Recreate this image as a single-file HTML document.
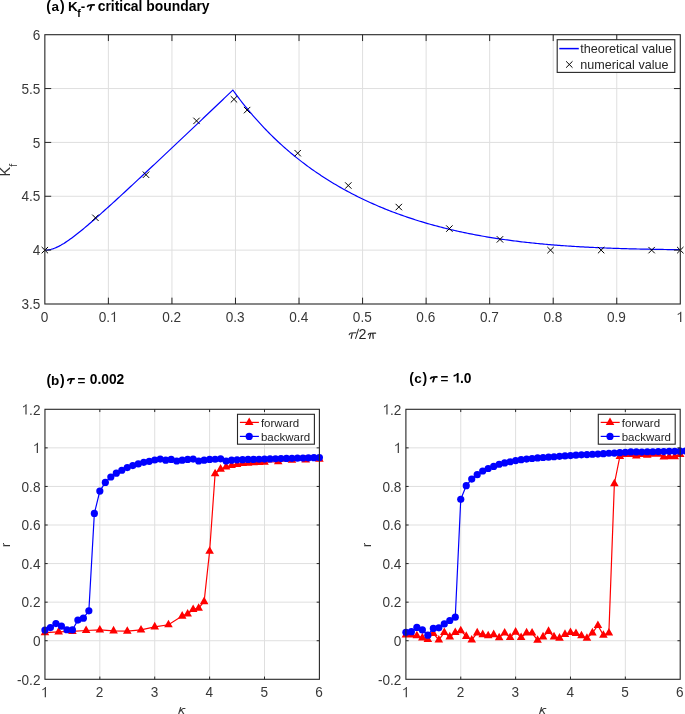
<!DOCTYPE html>
<html><head><meta charset="utf-8"><style>html,body{margin:0;padding:0;background:#fff;width:685px;height:714px;overflow:hidden}</style></head>
<body>
<svg width="685" height="714" viewBox="0 0 685 714" style="position:absolute;left:0;top:0;will-change:transform;font-family:'Liberation Sans',sans-serif;font-size:14.8px" fill="#262626">
<rect width="685" height="714" fill="#fff"/>
<path d="M108.39 34.70V304.00M171.94 34.70V304.00M235.48 34.70V304.00M299.03 34.70V304.00M362.57 34.70V304.00M426.12 34.70V304.00M489.66 34.70V304.00M553.21 34.70V304.00M616.75 34.70V304.00M44.85 250.14H680.30M44.85 196.28H680.30M44.85 142.42H680.30M44.85 88.56H680.30" stroke="#dfdfdf" stroke-width="1" fill="none"/>
<clipPath id="ca"><rect x="44.85" y="34.70" width="635.45" height="269.30"/></clipPath>
<polyline clip-path="url(#ca)" points="44.85,250.14 46.44,250.09 48.03,249.92 49.62,249.66 51.20,249.29 52.79,248.82 54.38,248.27 55.97,247.63 57.56,246.91 59.15,246.12 60.74,245.26 62.32,244.35 63.91,243.39 65.50,242.37 67.09,241.32 68.68,240.22 70.27,239.09 71.86,237.93 73.45,236.75 75.03,235.53 76.62,234.30 78.21,233.04 79.80,231.76 81.39,230.47 82.98,229.17 84.57,227.84 86.15,226.51 87.74,225.17 89.33,223.81 90.92,222.44 92.51,221.07 94.10,219.69 95.69,218.30 97.27,216.90 98.86,215.50 100.45,214.09 102.04,212.67 103.63,211.25 105.22,209.82 106.81,208.39 108.39,206.96 109.98,205.52 111.57,204.08 113.16,202.63 114.75,201.19 116.34,199.74 117.93,198.28 119.52,196.82 121.10,195.36 122.69,193.90 124.28,192.44 125.87,190.97 127.46,189.50 129.05,188.03 130.64,186.56 132.22,185.09 133.81,183.61 135.40,182.14 136.99,180.66 138.58,179.18 140.17,177.70 141.76,176.21 143.34,174.73 144.93,173.25 146.52,171.76 148.11,170.27 149.70,168.79 151.29,167.30 152.88,165.81 154.47,164.32 156.05,162.82 157.64,161.33 159.23,159.84 160.82,158.34 162.41,156.85 164.00,155.35 165.59,153.86 167.17,152.36 168.76,150.86 170.35,149.37 171.94,147.87 173.53,146.37 175.12,144.87 176.71,143.37 178.29,141.87 179.88,140.37 181.47,138.87 183.06,137.36 184.65,135.86 186.24,134.36 187.83,132.86 189.41,131.35 191.00,129.85 192.59,128.34 194.18,126.84 195.77,125.33 197.36,123.83 198.95,122.32 200.54,120.82 202.12,119.31 203.71,117.80 205.30,116.30 206.89,114.79 208.48,113.28 210.07,111.77 211.66,110.27 213.24,108.76 214.83,107.25 216.42,105.74 218.01,104.23 219.60,102.72 221.19,101.21 222.78,99.70 224.36,98.19 225.95,96.68 227.54,95.17 229.13,93.66 230.72,92.15 232.31,90.64 232.88,90.10 233.90,91.50 235.48,93.67 237.07,95.81 238.66,97.91 240.25,99.99 241.84,102.04 243.43,104.05 245.02,106.04 246.61,108.00 248.19,109.93 249.78,111.84 251.37,113.72 252.96,115.57 254.55,117.39 256.14,119.20 257.73,120.97 259.31,122.72 260.90,124.45 262.49,126.15 264.08,127.83 265.67,129.49 267.26,131.13 268.85,132.74 270.43,134.33 272.02,135.90 273.61,137.45 275.20,138.98 276.79,140.48 278.38,141.97 279.97,143.44 281.56,144.89 283.14,146.32 284.73,147.73 286.32,149.13 287.91,150.50 289.50,151.86 291.09,153.20 292.68,154.52 294.26,155.83 295.85,157.12 297.44,158.39 299.03,159.65 300.62,160.89 302.21,162.11 303.80,163.32 305.38,164.52 306.97,165.70 308.56,166.86 310.15,168.01 311.74,169.15 313.33,170.27 314.92,171.38 316.50,172.47 318.09,173.55 319.68,174.62 321.27,175.67 322.86,176.71 324.45,177.74 326.04,178.76 327.63,179.76 329.21,180.75 330.80,181.73 332.39,182.70 333.98,183.65 335.57,184.60 337.16,185.53 338.75,186.45 340.33,187.36 341.92,188.26 343.51,189.15 345.10,190.02 346.69,190.89 348.28,191.74 349.87,192.59 351.45,193.43 353.04,194.25 354.63,195.07 356.22,195.87 357.81,196.67 359.40,197.46 360.99,198.23 362.57,199.00 364.16,199.76 365.75,200.51 367.34,201.25 368.93,201.98 370.52,202.70 372.11,203.41 373.70,204.12 375.28,204.82 376.87,205.50 378.46,206.18 380.05,206.85 381.64,207.52 383.23,208.17 384.82,208.82 386.40,209.46 387.99,210.09 389.58,210.71 391.17,211.33 392.76,211.94 394.35,212.54 395.94,213.13 397.52,213.72 399.11,214.30 400.70,214.87 402.29,215.43 403.88,215.99 405.47,216.54 407.06,217.09 408.65,217.62 410.23,218.15 411.82,218.68 413.41,219.19 415.00,219.70 416.59,220.21 418.18,220.71 419.77,221.20 421.35,221.68 422.94,222.16 424.53,222.63 426.12,223.10 427.71,223.56 429.30,224.01 430.89,224.46 432.47,224.90 434.06,225.34 435.65,225.77 437.24,226.19 438.83,226.61 440.42,227.03 442.01,227.43 443.59,227.84 445.18,228.23 446.77,228.62 448.36,229.01 449.95,229.39 451.54,229.77 453.13,230.14 454.72,230.50 456.30,230.86 457.89,231.22 459.48,231.57 461.07,231.91 462.66,232.25 464.25,232.59 465.84,232.92 467.42,233.24 469.01,233.56 470.60,233.88 472.19,234.19 473.78,234.50 475.37,234.80 476.96,235.10 478.54,235.39 480.13,235.68 481.72,235.97 483.31,236.25 484.90,236.52 486.49,236.80 488.08,237.06 489.66,237.33 491.25,237.59 492.84,237.84 494.43,238.09 496.02,238.34 497.61,238.58 499.20,238.82 500.79,239.06 502.37,239.29 503.96,239.52 505.55,239.74 507.14,239.96 508.73,240.18 510.32,240.39 511.91,240.60 513.49,240.81 515.08,241.01 516.67,241.21 518.26,241.41 519.85,241.60 521.44,241.79 523.03,241.98 524.61,242.16 526.20,242.34 527.79,242.51 529.38,242.69 530.97,242.86 532.56,243.02 534.15,243.19 535.74,243.35 537.32,243.51 538.91,243.66 540.50,243.81 542.09,243.96 543.68,244.11 545.27,244.25 546.86,244.39 548.44,244.53 550.03,244.67 551.62,244.80 553.21,244.93 554.80,245.06 556.39,245.18 557.98,245.31 559.56,245.43 561.15,245.55 562.74,245.66 564.33,245.77 565.92,245.89 567.51,245.99 569.10,246.10 570.68,246.20 572.27,246.31 573.86,246.41 575.45,246.50 577.04,246.60 578.63,246.69 580.22,246.78 581.81,246.87 583.39,246.96 584.98,247.05 586.57,247.13 588.16,247.21 589.75,247.29 591.34,247.37 592.93,247.45 594.51,247.52 596.10,247.59 597.69,247.67 599.28,247.74 600.87,247.80 602.46,247.87 604.05,247.93 605.63,248.00 607.22,248.06 608.81,248.12 610.40,248.18 611.99,248.24 613.58,248.29 615.17,248.35 616.75,248.40 618.34,248.45 619.93,248.50 621.52,248.55 623.11,248.60 624.70,248.65 626.29,248.69 627.88,248.74 629.46,248.78 631.05,248.82 632.64,248.86 634.23,248.90 635.82,248.94 637.41,248.98 639.00,249.02 640.58,249.05 642.17,249.09 643.76,249.12 645.35,249.16 646.94,249.19 648.53,249.22 650.12,249.25 651.70,249.28 653.29,249.31 654.88,249.33 656.47,249.36 658.06,249.39 659.65,249.41 661.24,249.44 662.83,249.46 664.41,249.49 666.00,249.51 667.59,249.53 669.18,249.55 670.77,249.57 672.36,249.59 673.95,249.61 675.53,249.63 677.12,249.65 678.71,249.67 680.30,249.68" fill="none" stroke="#0000ff" stroke-width="1.2" stroke-linejoin="miter"/>
<path d="M41.65 246.94L48.05 253.34M41.65 253.34L48.05 246.94M92.23 214.62L98.63 221.02M92.23 221.02L98.63 214.62M142.81 171.54L149.21 177.94M142.81 177.94L149.21 171.54M193.33 117.68L199.73 124.08M193.33 124.08L199.73 117.68M230.76 96.13L237.16 102.53M230.76 102.53L237.16 96.13M243.91 106.90L250.31 113.30M243.91 113.30L250.31 106.90M294.50 149.99L300.90 156.39M294.50 156.39L300.90 149.99M345.08 182.31L351.48 188.71M345.08 188.71L351.48 182.31M395.60 203.85L402.00 210.25M395.60 210.25L402.00 203.85M446.18 225.40L452.58 231.80M446.18 231.80L452.58 225.40M496.76 236.17L503.16 242.57M496.76 242.57L503.16 236.17M547.34 246.94L553.74 253.34M547.34 253.34L553.74 246.94M597.92 246.94L604.32 253.34M597.92 253.34L604.32 246.94M648.44 246.94L654.84 253.34M648.44 253.34L654.84 246.94M677.10 246.94L683.50 253.34M677.10 253.34L683.50 246.94" stroke="#000" stroke-width="1.0" fill="none"/>
<path d="M108.39 304.00v-6.35M108.39 34.70v6.35M171.94 304.00v-6.35M171.94 34.70v6.35M235.48 304.00v-6.35M235.48 34.70v6.35M299.03 304.00v-6.35M299.03 34.70v6.35M362.57 304.00v-6.35M362.57 34.70v6.35M426.12 304.00v-6.35M426.12 34.70v6.35M489.66 304.00v-6.35M489.66 34.70v6.35M553.21 304.00v-6.35M553.21 34.70v6.35M616.75 304.00v-6.35M616.75 34.70v6.35M44.85 250.14h6.35M680.30 250.14h-6.35M44.85 196.28h6.35M680.30 196.28h-6.35M44.85 142.42h6.35M680.30 142.42h-6.35M44.85 88.56h6.35M680.30 88.56h-6.35" stroke="#262626" stroke-width="1.0" fill="none"/>
<rect x="44.85" y="34.70" width="635.45" height="269.30" stroke="#262626" stroke-width="1.1" fill="none"/>
<g transform="translate(44.55 322.00) scale(0.92 1)" fill="#383838"><text x="-4.12" y="0" font-size="14.8">0</text></g>
<g transform="translate(108.09 322.00) scale(0.92 1)" fill="#383838"><text x="-10.29" y="0" font-size="14.8">0. </text><path d="M6.27 0.00L7.57 0.00L7.57 -10.33L6.72 -10.33L6.48 -9.83L5.96 -9.29L5.24 -8.78L4.44 -8.38L3.67 -8.09L3.67 -6.94L4.44 -7.30L5.24 -7.73L5.81 -8.13L6.27 -8.53Z"/></g>
<g transform="translate(171.64 322.00) scale(0.92 1)" fill="#383838"><text x="-10.29" y="0" font-size="14.8">0.2</text></g>
<g transform="translate(235.18 322.00) scale(0.92 1)" fill="#383838"><text x="-10.29" y="0" font-size="14.8">0.3</text></g>
<g transform="translate(298.73 322.00) scale(0.92 1)" fill="#383838"><text x="-10.29" y="0" font-size="14.8">0.4</text></g>
<g transform="translate(362.27 322.00) scale(0.92 1)" fill="#383838"><text x="-10.29" y="0" font-size="14.8">0.5</text></g>
<g transform="translate(425.82 322.00) scale(0.92 1)" fill="#383838"><text x="-10.29" y="0" font-size="14.8">0.6</text></g>
<g transform="translate(489.36 322.00) scale(0.92 1)" fill="#383838"><text x="-10.29" y="0" font-size="14.8">0.7</text></g>
<g transform="translate(552.91 322.00) scale(0.92 1)" fill="#383838"><text x="-10.29" y="0" font-size="14.8">0.8</text></g>
<g transform="translate(616.46 322.00) scale(0.92 1)" fill="#383838"><text x="-10.29" y="0" font-size="14.8">0.9</text></g>
<g transform="translate(680.00 322.00) scale(0.92 1)" fill="#383838"><text x="-4.12" y="0" font-size="14.8"> </text><path d="M0.10 0.00L1.40 0.00L1.40 -10.33L0.55 -10.33L0.31 -9.83L-0.21 -9.29L-0.94 -8.78L-1.73 -8.38L-2.50 -8.09L-2.50 -6.94L-1.73 -7.30L-0.94 -7.73L-0.36 -8.13L0.10 -8.53Z"/></g>
<g transform="translate(40.35 309.20) scale(0.92 1)" fill="#383838"><text x="-20.57" y="0" font-size="14.8">3.5</text></g>
<g transform="translate(40.35 255.34) scale(0.92 1)" fill="#383838"><text x="-8.23" y="0" font-size="14.8">4</text></g>
<g transform="translate(40.35 201.48) scale(0.92 1)" fill="#383838"><text x="-20.57" y="0" font-size="14.8">4.5</text></g>
<g transform="translate(40.35 147.62) scale(0.92 1)" fill="#383838"><text x="-8.23" y="0" font-size="14.8">5</text></g>
<g transform="translate(40.35 93.76) scale(0.92 1)" fill="#383838"><text x="-20.57" y="0" font-size="14.8">5.5</text></g>
<g transform="translate(40.35 39.90) scale(0.92 1)" fill="#383838"><text x="-8.23" y="0" font-size="14.8">6</text></g>
<rect x="557.2" y="39.7" width="117.6" height="32.7" fill="#fff" stroke="#262626" stroke-width="1.1"/>
<path d="M559.3 48.6H578.8" stroke="#0000ff" stroke-width="1.5"/>
<path d="M566.1 61.3l6.4 6.4M566.1 67.7l6.4 -6.4" stroke="#000" stroke-width="1"/>
<text x="580.3" y="53.2" font-size="12.6">theoretical value</text>
<text x="580.3" y="68.6" font-size="12.6">numerical value</text>
<path d="M349.2 334.6C349.6 333.5 350.2 333.05 351.2 333.0L356.0 332.8M352.3 333.2L351.2 338.4" stroke="#262626" stroke-width="1.15" fill="none" stroke-linecap="round"/>
<path d="M355.6 338.5L358.5 329.1" stroke="#262626" stroke-width="1.0" fill="none" stroke-linecap="round"/>
<text x="358.58" y="338.70" font-size="14.3">2</text>
<path d="M368.3 334.6C368.6 333.6 369.1 333.3 369.9 333.25L375.6 333.2M370.7 333.4L369.6 338.4M372.8 333.4L373.2 338.4" stroke="#262626" stroke-width="1.2" fill="none" stroke-linecap="round"/>
<text transform="translate(10.3 176.4) rotate(-90)" font-size="14.5" fill="#333">K<tspan font-size="10.5" dy="6.6">f</tspan></text>
<text x="46.20" y="10.85" font-size="14" font-weight="bold" fill="#000">(</text>
<text x="51.50" y="10.55" font-size="13.5" font-weight="bold" fill="#000">a</text>
<text x="59.89" y="10.85" font-size="14" font-weight="bold" fill="#000">)</text>
<text x="68.00" y="10.60" font-size="13.5" font-weight="bold" fill="#000">K</text>
<text x="77.22" y="17.20" font-size="10.5" font-weight="bold" fill="#000">f</text>
<text x="80.87" y="10.60" font-size="13.5" font-weight="bold" fill="#000">-</text>
<path d="M87.61 6.50C88.07 5.18 88.83 5.05 90.04 5.05L94.19 4.92M91.66 5.05L90.14 9.95" stroke="#000" stroke-width="1.7" fill="none" stroke-linecap="round"/>
<text x="97.66" y="10.60" font-size="13.9" font-weight="bold" fill="#000">critical boundary</text>
<path d="M99.84 409.30V679.30M154.73 409.30V679.30M209.62 409.30V679.30M264.51 409.30V679.30M44.95 640.73H319.40M44.95 602.16H319.40M44.95 563.59H319.40M44.95 525.01H319.40M44.95 486.44H319.40M44.95 447.87H319.40" stroke="#dfdfdf" stroke-width="1" fill="none"/>
<clipPath id="cb"><rect x="44.95" y="409.30" width="274.45" height="270.00"/></clipPath>
<polyline clip-path="url(#cb)" points="44.95,632.63 58.67,631.86 72.40,631.47 86.12,630.51 99.84,629.93 113.56,630.80 127.28,631.18 141.01,629.93 154.73,626.84 168.45,624.72 182.18,616.04 187.66,613.92 193.15,609.49 198.64,608.14 204.13,601.58 209.62,551.24 215.11,473.71 220.60,469.09 226.09,466.96 231.58,465.42 237.06,464.46 242.55,463.49 248.04,463.11 253.53,462.72 259.02,462.34 264.51,462.14 278.23,461.76 291.95,460.21 305.68,459.83 319.40,459.06" fill="none" stroke="#ff0000" stroke-width="1.2"/>
<path d="M44.95 627.63L49.25 635.23H40.65ZM58.67 626.86L62.97 634.46H54.37ZM72.40 626.47L76.70 634.07H68.10ZM86.12 625.51L90.42 633.11H81.82ZM99.84 624.93L104.14 632.53H95.54ZM113.56 625.80L117.86 633.40H109.26ZM127.28 626.18L131.59 633.78H122.98ZM141.01 624.93L145.31 632.53H136.71ZM154.73 621.84L159.03 629.44H150.43ZM168.45 619.72L172.75 627.32H164.15ZM182.18 611.04L186.48 618.64H177.88ZM187.66 608.92L191.96 616.52H183.36ZM193.15 604.49L197.45 612.09H188.85ZM198.64 603.14L202.94 610.74H194.34ZM204.13 596.58L208.43 604.18H199.83ZM209.62 546.24L213.92 553.84H205.32ZM215.11 468.71L219.41 476.31H210.81ZM220.60 464.09L224.90 471.69H216.30ZM226.09 461.96L230.39 469.56H221.79ZM231.58 460.42L235.88 468.02H227.28ZM237.06 459.46L241.37 467.06H232.76ZM242.55 458.49L246.85 466.09H238.25ZM248.04 458.11L252.34 465.71H243.74ZM253.53 457.72L257.83 465.32H249.23ZM259.02 457.34L263.32 464.94H254.72ZM264.51 457.14L268.81 464.74H260.21ZM278.23 456.76L282.53 464.36H273.93ZM291.95 455.21L296.25 462.81H287.65ZM305.68 454.83L309.98 462.43H301.38ZM319.40 454.06L323.70 461.66H315.10Z" fill="#ff0000"/>
<polyline clip-path="url(#cb)" points="44.95,630.12 50.44,627.61 55.93,623.56 61.42,626.07 66.91,629.74 72.40,629.93 77.88,620.09 83.37,618.16 88.86,610.84 94.35,513.44 99.84,491.07 105.33,482.39 110.82,476.99 116.31,473.14 121.80,470.24 127.28,467.54 132.77,465.61 138.26,463.88 143.75,462.34 149.24,461.37 154.73,460.02 160.22,459.06 165.71,460.21 171.20,459.44 176.69,460.99 182.18,460.21 187.66,459.44 193.15,459.06 198.64,460.99 204.13,460.21 209.62,459.44 215.11,459.25 220.60,458.86 226.09,460.99 231.58,460.21 237.06,459.83 242.55,459.64 248.04,459.44 253.53,459.44 259.02,459.25 264.51,459.06 270.00,458.90 275.49,458.75 280.98,458.59 286.47,458.44 291.95,458.29 297.44,458.13 302.93,457.98 308.42,457.82 313.91,457.67 319.40,457.51" fill="none" stroke="#0000ff" stroke-width="1.2"/>
<circle cx="44.95" cy="630.12" r="3.6" fill="#0000ff"/>
<circle cx="50.44" cy="627.61" r="3.6" fill="#0000ff"/>
<circle cx="55.93" cy="623.56" r="3.6" fill="#0000ff"/>
<circle cx="61.42" cy="626.07" r="3.6" fill="#0000ff"/>
<circle cx="66.91" cy="629.74" r="3.6" fill="#0000ff"/>
<circle cx="72.40" cy="629.93" r="3.6" fill="#0000ff"/>
<circle cx="77.88" cy="620.09" r="3.6" fill="#0000ff"/>
<circle cx="83.37" cy="618.16" r="3.6" fill="#0000ff"/>
<circle cx="88.86" cy="610.84" r="3.6" fill="#0000ff"/>
<circle cx="94.35" cy="513.44" r="3.6" fill="#0000ff"/>
<circle cx="99.84" cy="491.07" r="3.6" fill="#0000ff"/>
<circle cx="105.33" cy="482.39" r="3.6" fill="#0000ff"/>
<circle cx="110.82" cy="476.99" r="3.6" fill="#0000ff"/>
<circle cx="116.31" cy="473.14" r="3.6" fill="#0000ff"/>
<circle cx="121.80" cy="470.24" r="3.6" fill="#0000ff"/>
<circle cx="127.28" cy="467.54" r="3.6" fill="#0000ff"/>
<circle cx="132.77" cy="465.61" r="3.6" fill="#0000ff"/>
<circle cx="138.26" cy="463.88" r="3.6" fill="#0000ff"/>
<circle cx="143.75" cy="462.34" r="3.6" fill="#0000ff"/>
<circle cx="149.24" cy="461.37" r="3.6" fill="#0000ff"/>
<circle cx="154.73" cy="460.02" r="3.6" fill="#0000ff"/>
<circle cx="160.22" cy="459.06" r="3.6" fill="#0000ff"/>
<circle cx="165.71" cy="460.21" r="3.6" fill="#0000ff"/>
<circle cx="171.20" cy="459.44" r="3.6" fill="#0000ff"/>
<circle cx="176.69" cy="460.99" r="3.6" fill="#0000ff"/>
<circle cx="182.18" cy="460.21" r="3.6" fill="#0000ff"/>
<circle cx="187.66" cy="459.44" r="3.6" fill="#0000ff"/>
<circle cx="193.15" cy="459.06" r="3.6" fill="#0000ff"/>
<circle cx="198.64" cy="460.99" r="3.6" fill="#0000ff"/>
<circle cx="204.13" cy="460.21" r="3.6" fill="#0000ff"/>
<circle cx="209.62" cy="459.44" r="3.6" fill="#0000ff"/>
<circle cx="215.11" cy="459.25" r="3.6" fill="#0000ff"/>
<circle cx="220.60" cy="458.86" r="3.6" fill="#0000ff"/>
<circle cx="226.09" cy="460.99" r="3.6" fill="#0000ff"/>
<circle cx="231.58" cy="460.21" r="3.6" fill="#0000ff"/>
<circle cx="237.06" cy="459.83" r="3.6" fill="#0000ff"/>
<circle cx="242.55" cy="459.64" r="3.6" fill="#0000ff"/>
<circle cx="248.04" cy="459.44" r="3.6" fill="#0000ff"/>
<circle cx="253.53" cy="459.44" r="3.6" fill="#0000ff"/>
<circle cx="259.02" cy="459.25" r="3.6" fill="#0000ff"/>
<circle cx="264.51" cy="459.06" r="3.6" fill="#0000ff"/>
<circle cx="270.00" cy="458.90" r="3.6" fill="#0000ff"/>
<circle cx="275.49" cy="458.75" r="3.6" fill="#0000ff"/>
<circle cx="280.98" cy="458.59" r="3.6" fill="#0000ff"/>
<circle cx="286.47" cy="458.44" r="3.6" fill="#0000ff"/>
<circle cx="291.95" cy="458.29" r="3.6" fill="#0000ff"/>
<circle cx="297.44" cy="458.13" r="3.6" fill="#0000ff"/>
<circle cx="302.93" cy="457.98" r="3.6" fill="#0000ff"/>
<circle cx="308.42" cy="457.82" r="3.6" fill="#0000ff"/>
<circle cx="313.91" cy="457.67" r="3.6" fill="#0000ff"/>
<circle cx="319.40" cy="457.51" r="3.6" fill="#0000ff"/>
<path d="M99.84 679.30v-2.74M99.84 409.30v2.74M154.73 679.30v-2.74M154.73 409.30v2.74M209.62 679.30v-2.74M209.62 409.30v2.74M264.51 679.30v-2.74M264.51 409.30v2.74M44.95 640.73h2.74M319.40 640.73h-2.74M44.95 602.16h2.74M319.40 602.16h-2.74M44.95 563.59h2.74M319.40 563.59h-2.74M44.95 525.01h2.74M319.40 525.01h-2.74M44.95 486.44h2.74M319.40 486.44h-2.74M44.95 447.87h2.74M319.40 447.87h-2.74" stroke="#262626" stroke-width="1.0" fill="none"/>
<rect x="44.95" y="409.30" width="274.45" height="270.00" stroke="#262626" stroke-width="1.1" fill="none"/>
<g transform="translate(44.65 697.30) scale(0.92 1)" fill="#383838"><text x="-4.12" y="0" font-size="14.8"> </text><path d="M0.10 0.00L1.40 0.00L1.40 -10.33L0.55 -10.33L0.31 -9.83L-0.21 -9.29L-0.94 -8.78L-1.73 -8.38L-2.50 -8.09L-2.50 -6.94L-1.73 -7.30L-0.94 -7.73L-0.36 -8.13L0.10 -8.53Z"/></g>
<g transform="translate(99.54 697.30) scale(0.92 1)" fill="#383838"><text x="-4.12" y="0" font-size="14.8">2</text></g>
<g transform="translate(154.43 697.30) scale(0.92 1)" fill="#383838"><text x="-4.12" y="0" font-size="14.8">3</text></g>
<g transform="translate(209.32 697.30) scale(0.92 1)" fill="#383838"><text x="-4.12" y="0" font-size="14.8">4</text></g>
<g transform="translate(264.21 697.30) scale(0.92 1)" fill="#383838"><text x="-4.12" y="0" font-size="14.8">5</text></g>
<g transform="translate(319.10 697.30) scale(0.92 1)" fill="#383838"><text x="-4.12" y="0" font-size="14.8">6</text></g>
<g transform="translate(40.45 684.50) scale(0.92 1)" fill="#383838"><text x="-25.50" y="0" font-size="14.8">-0.2</text></g>
<g transform="translate(40.45 645.93) scale(0.92 1)" fill="#383838"><text x="-8.23" y="0" font-size="14.8">0</text></g>
<g transform="translate(40.45 607.36) scale(0.92 1)" fill="#383838"><text x="-20.57" y="0" font-size="14.8">0.2</text></g>
<g transform="translate(40.45 568.79) scale(0.92 1)" fill="#383838"><text x="-20.57" y="0" font-size="14.8">0.4</text></g>
<g transform="translate(40.45 530.21) scale(0.92 1)" fill="#383838"><text x="-20.57" y="0" font-size="14.8">0.6</text></g>
<g transform="translate(40.45 491.64) scale(0.92 1)" fill="#383838"><text x="-20.57" y="0" font-size="14.8">0.8</text></g>
<g transform="translate(40.45 453.07) scale(0.92 1)" fill="#383838"><text x="-8.23" y="0" font-size="14.8"> </text><path d="M-4.02 0.00L-2.72 0.00L-2.72 -10.33L-3.56 -10.33L-3.81 -9.83L-4.33 -9.29L-5.05 -8.78L-5.85 -8.38L-6.62 -8.09L-6.62 -6.94L-5.85 -7.30L-5.05 -7.73L-4.47 -8.13L-4.02 -8.53Z"/></g>
<g transform="translate(40.45 414.50) scale(0.92 1)" fill="#383838"><text x="-20.57" y="0" font-size="14.8"> .2</text><path d="M-16.36 0.00L-15.06 0.00L-15.06 -10.33L-15.91 -10.33L-16.15 -9.83L-16.67 -9.29L-17.39 -8.78L-18.19 -8.38L-18.96 -8.09L-18.96 -6.94L-18.19 -7.30L-17.39 -7.73L-16.82 -8.13L-16.36 -8.53Z"/></g>
<rect x="237.50" y="414.3" width="76.9" height="29.9" fill="#fff" stroke="#262626" stroke-width="1.1"/>
<path d="M239.90 422.4h19" stroke="#ff0000" stroke-width="1.2"/>
<path d="M249.20 417.40l4.3 7.60h-8.6z" fill="#ff0000"/>
<path d="M239.90 436.4h19" stroke="#0000ff" stroke-width="1.2"/>
<circle cx="249.20" cy="436.4" r="3.6" fill="#0000ff"/>
<text x="260.90" y="426.6" font-size="11.5">forward</text>
<text x="260.90" y="440.8" font-size="11.5">backward</text>
<text transform="translate(9.65 544.9) rotate(-90)" text-anchor="middle" font-size="13.6" fill="#333">r</text>
<g transform="translate(-0.03 0)"><path d="M180.7 707.5L178.5 714.8M179.9 711.3C181.2 710.6 182.0 708.7 183.2 708.5L185.0 708.5M181.5 710.3L184.2 714.8" stroke="#3a3a3a" stroke-width="1.15" fill="none" stroke-linecap="round"/></g>
<text x="46.40" y="384.70" font-size="14" font-weight="bold" fill="#000">(</text>
<text x="51.01" y="384.50" font-size="13.5" font-weight="bold" fill="#000">b</text>
<text x="59.89" y="384.70" font-size="14" font-weight="bold" fill="#000">)</text>
<path d="M67.81 380.31C68.25 379.07 68.99 378.95 70.18 378.95L74.19 378.83M71.74 378.95L70.26 383.45" stroke="#000" stroke-width="1.7" fill="none" stroke-linecap="round"/>
<text x="77.54" y="385.40" font-size="13.5" font-weight="bold" fill="#000">=</text>
<text x="89.75" y="384.35" font-size="13.8" font-weight="bold" fill="#000">0.002</text>
<path d="M460.76 409.30V679.30M515.62 409.30V679.30M570.48 409.30V679.30M625.34 409.30V679.30M405.90 640.73H680.20M405.90 602.16H680.20M405.90 563.59H680.20M405.90 525.01H680.20M405.90 486.44H680.20M405.90 447.87H680.20" stroke="#dfdfdf" stroke-width="1" fill="none"/>
<clipPath id="cc"><rect x="405.90" y="409.30" width="274.30" height="270.00"/></clipPath>
<polyline clip-path="url(#cc)" points="405.90,634.94 411.39,634.94 416.87,635.71 422.36,637.84 427.84,639.38 433.33,633.40 438.82,639.96 444.30,632.44 449.79,636.87 455.27,632.44 460.76,630.70 466.25,636.29 471.73,639.96 477.22,632.82 482.70,634.56 488.19,635.71 493.68,634.56 499.16,637.64 504.65,633.01 510.13,637.45 515.62,632.05 521.11,637.45 526.59,632.82 532.08,633.01 537.56,640.15 543.05,636.87 548.54,631.28 554.02,636.87 559.51,638.03 564.99,634.36 570.48,632.44 575.97,633.40 581.45,635.71 586.94,638.22 592.42,632.82 597.91,625.49 603.40,635.14 608.88,633.01 614.37,483.74 619.85,456.36 625.34,454.43 630.83,454.43 636.31,455.78 641.80,454.43 647.28,455.20 652.77,454.04 658.26,454.04 663.74,456.94 669.23,456.55 674.71,456.55 680.20,454.43" fill="none" stroke="#ff0000" stroke-width="1.2"/>
<path d="M405.90 629.94L410.20 637.54H401.60ZM411.39 629.94L415.69 637.54H407.09ZM416.87 630.71L421.17 638.31H412.57ZM422.36 632.84L426.66 640.44H418.06ZM427.84 634.38L432.14 641.98H423.54ZM433.33 628.40L437.63 636.00H429.03ZM438.82 634.96L443.12 642.56H434.52ZM444.30 627.44L448.60 635.04H440.00ZM449.79 631.87L454.09 639.47H445.49ZM455.27 627.44L459.57 635.04H450.97ZM460.76 625.70L465.06 633.30H456.46ZM466.25 631.29L470.55 638.89H461.95ZM471.73 634.96L476.03 642.56H467.43ZM477.22 627.82L481.52 635.42H472.92ZM482.70 629.56L487.00 637.16H478.40ZM488.19 630.71L492.49 638.31H483.89ZM493.68 629.56L497.98 637.16H489.38ZM499.16 632.64L503.46 640.24H494.86ZM504.65 628.01L508.95 635.61H500.35ZM510.13 632.45L514.43 640.05H505.83ZM515.62 627.05L519.92 634.65H511.32ZM521.11 632.45L525.41 640.05H516.81ZM526.59 627.82L530.89 635.42H522.29ZM532.08 628.01L536.38 635.61H527.78ZM537.56 635.15L541.86 642.75H533.26ZM543.05 631.87L547.35 639.47H538.75ZM548.54 626.28L552.84 633.88H544.24ZM554.02 631.87L558.32 639.47H549.72ZM559.51 633.03L563.81 640.63H555.21ZM564.99 629.36L569.29 636.96H560.69ZM570.48 627.44L574.78 635.04H566.18ZM575.97 628.40L580.27 636.00H571.67ZM581.45 630.71L585.75 638.31H577.15ZM586.94 633.22L591.24 640.82H582.64ZM592.42 627.82L596.72 635.42H588.12ZM597.91 620.49L602.21 628.09H593.61ZM603.40 630.14L607.70 637.74H599.10ZM608.88 628.01L613.18 635.61H604.58ZM614.37 478.74L618.67 486.34H610.07ZM619.85 451.36L624.15 458.96H615.55ZM625.34 449.43L629.64 457.03H621.04ZM630.83 449.43L635.13 457.03H626.53ZM636.31 450.78L640.61 458.38H632.01ZM641.80 449.43L646.10 457.03H637.50ZM647.28 450.20L651.58 457.80H642.98ZM652.77 449.04L657.07 456.64H648.47ZM658.26 449.04L662.56 456.64H653.96ZM663.74 451.94L668.04 459.54H659.44ZM669.23 451.55L673.53 459.15H664.93ZM674.71 451.55L679.01 459.15H670.41ZM680.20 449.43L684.50 457.03H675.90Z" fill="#ff0000"/>
<polyline clip-path="url(#cc)" points="405.90,632.24 411.39,631.66 416.87,627.42 422.36,629.93 427.84,635.14 433.33,628.39 438.82,627.81 444.30,623.95 449.79,620.48 455.27,617.20 460.76,499.36 466.25,485.67 471.73,479.11 477.22,474.68 482.70,471.01 488.19,468.51 493.68,466.39 499.16,464.26 504.65,462.91 510.13,461.76 515.62,460.60 521.11,459.64 526.59,459.06 532.08,458.48 537.56,457.90 543.05,457.51 548.54,457.13 554.02,456.74 559.51,456.36 564.99,455.97 570.48,455.59 575.97,455.20 581.45,454.81 586.94,454.62 592.42,454.24 597.91,454.04 603.40,453.66 608.88,453.27 614.37,453.08 619.85,452.69 625.34,452.31 630.83,451.92 636.31,451.92 641.80,452.11 647.28,451.73 652.77,451.73 658.26,451.54 663.74,451.54 669.23,451.34 674.71,451.34 680.20,451.15 685.69,450.96" fill="none" stroke="#0000ff" stroke-width="1.2"/>
<circle cx="405.90" cy="632.24" r="3.6" fill="#0000ff"/>
<circle cx="411.39" cy="631.66" r="3.6" fill="#0000ff"/>
<circle cx="416.87" cy="627.42" r="3.6" fill="#0000ff"/>
<circle cx="422.36" cy="629.93" r="3.6" fill="#0000ff"/>
<circle cx="427.84" cy="635.14" r="3.6" fill="#0000ff"/>
<circle cx="433.33" cy="628.39" r="3.6" fill="#0000ff"/>
<circle cx="438.82" cy="627.81" r="3.6" fill="#0000ff"/>
<circle cx="444.30" cy="623.95" r="3.6" fill="#0000ff"/>
<circle cx="449.79" cy="620.48" r="3.6" fill="#0000ff"/>
<circle cx="455.27" cy="617.20" r="3.6" fill="#0000ff"/>
<circle cx="460.76" cy="499.36" r="3.6" fill="#0000ff"/>
<circle cx="466.25" cy="485.67" r="3.6" fill="#0000ff"/>
<circle cx="471.73" cy="479.11" r="3.6" fill="#0000ff"/>
<circle cx="477.22" cy="474.68" r="3.6" fill="#0000ff"/>
<circle cx="482.70" cy="471.01" r="3.6" fill="#0000ff"/>
<circle cx="488.19" cy="468.51" r="3.6" fill="#0000ff"/>
<circle cx="493.68" cy="466.39" r="3.6" fill="#0000ff"/>
<circle cx="499.16" cy="464.26" r="3.6" fill="#0000ff"/>
<circle cx="504.65" cy="462.91" r="3.6" fill="#0000ff"/>
<circle cx="510.13" cy="461.76" r="3.6" fill="#0000ff"/>
<circle cx="515.62" cy="460.60" r="3.6" fill="#0000ff"/>
<circle cx="521.11" cy="459.64" r="3.6" fill="#0000ff"/>
<circle cx="526.59" cy="459.06" r="3.6" fill="#0000ff"/>
<circle cx="532.08" cy="458.48" r="3.6" fill="#0000ff"/>
<circle cx="537.56" cy="457.90" r="3.6" fill="#0000ff"/>
<circle cx="543.05" cy="457.51" r="3.6" fill="#0000ff"/>
<circle cx="548.54" cy="457.13" r="3.6" fill="#0000ff"/>
<circle cx="554.02" cy="456.74" r="3.6" fill="#0000ff"/>
<circle cx="559.51" cy="456.36" r="3.6" fill="#0000ff"/>
<circle cx="564.99" cy="455.97" r="3.6" fill="#0000ff"/>
<circle cx="570.48" cy="455.59" r="3.6" fill="#0000ff"/>
<circle cx="575.97" cy="455.20" r="3.6" fill="#0000ff"/>
<circle cx="581.45" cy="454.81" r="3.6" fill="#0000ff"/>
<circle cx="586.94" cy="454.62" r="3.6" fill="#0000ff"/>
<circle cx="592.42" cy="454.24" r="3.6" fill="#0000ff"/>
<circle cx="597.91" cy="454.04" r="3.6" fill="#0000ff"/>
<circle cx="603.40" cy="453.66" r="3.6" fill="#0000ff"/>
<circle cx="608.88" cy="453.27" r="3.6" fill="#0000ff"/>
<circle cx="614.37" cy="453.08" r="3.6" fill="#0000ff"/>
<circle cx="619.85" cy="452.69" r="3.6" fill="#0000ff"/>
<circle cx="625.34" cy="452.31" r="3.6" fill="#0000ff"/>
<circle cx="630.83" cy="451.92" r="3.6" fill="#0000ff"/>
<circle cx="636.31" cy="451.92" r="3.6" fill="#0000ff"/>
<circle cx="641.80" cy="452.11" r="3.6" fill="#0000ff"/>
<circle cx="647.28" cy="451.73" r="3.6" fill="#0000ff"/>
<circle cx="652.77" cy="451.73" r="3.6" fill="#0000ff"/>
<circle cx="658.26" cy="451.54" r="3.6" fill="#0000ff"/>
<circle cx="663.74" cy="451.54" r="3.6" fill="#0000ff"/>
<circle cx="669.23" cy="451.34" r="3.6" fill="#0000ff"/>
<circle cx="674.71" cy="451.34" r="3.6" fill="#0000ff"/>
<circle cx="680.20" cy="451.15" r="3.6" fill="#0000ff"/>
<circle cx="685.69" cy="450.96" r="3.6" fill="#0000ff"/>
<path d="M460.76 679.30v-2.74M460.76 409.30v2.74M515.62 679.30v-2.74M515.62 409.30v2.74M570.48 679.30v-2.74M570.48 409.30v2.74M625.34 679.30v-2.74M625.34 409.30v2.74M405.90 640.73h2.74M680.20 640.73h-2.74M405.90 602.16h2.74M680.20 602.16h-2.74M405.90 563.59h2.74M680.20 563.59h-2.74M405.90 525.01h2.74M680.20 525.01h-2.74M405.90 486.44h2.74M680.20 486.44h-2.74M405.90 447.87h2.74M680.20 447.87h-2.74" stroke="#262626" stroke-width="1.0" fill="none"/>
<rect x="405.90" y="409.30" width="274.30" height="270.00" stroke="#262626" stroke-width="1.1" fill="none"/>
<g transform="translate(405.60 697.30) scale(0.92 1)" fill="#383838"><text x="-4.12" y="0" font-size="14.8"> </text><path d="M0.10 0.00L1.40 0.00L1.40 -10.33L0.55 -10.33L0.31 -9.83L-0.21 -9.29L-0.94 -8.78L-1.73 -8.38L-2.50 -8.09L-2.50 -6.94L-1.73 -7.30L-0.94 -7.73L-0.36 -8.13L0.10 -8.53Z"/></g>
<g transform="translate(460.46 697.30) scale(0.92 1)" fill="#383838"><text x="-4.12" y="0" font-size="14.8">2</text></g>
<g transform="translate(515.32 697.30) scale(0.92 1)" fill="#383838"><text x="-4.12" y="0" font-size="14.8">3</text></g>
<g transform="translate(570.18 697.30) scale(0.92 1)" fill="#383838"><text x="-4.12" y="0" font-size="14.8">4</text></g>
<g transform="translate(625.04 697.30) scale(0.92 1)" fill="#383838"><text x="-4.12" y="0" font-size="14.8">5</text></g>
<g transform="translate(679.90 697.30) scale(0.92 1)" fill="#383838"><text x="-4.12" y="0" font-size="14.8">6</text></g>
<g transform="translate(401.40 684.50) scale(0.92 1)" fill="#383838"><text x="-25.50" y="0" font-size="14.8">-0.2</text></g>
<g transform="translate(401.40 645.93) scale(0.92 1)" fill="#383838"><text x="-8.23" y="0" font-size="14.8">0</text></g>
<g transform="translate(401.40 607.36) scale(0.92 1)" fill="#383838"><text x="-20.57" y="0" font-size="14.8">0.2</text></g>
<g transform="translate(401.40 568.79) scale(0.92 1)" fill="#383838"><text x="-20.57" y="0" font-size="14.8">0.4</text></g>
<g transform="translate(401.40 530.21) scale(0.92 1)" fill="#383838"><text x="-20.57" y="0" font-size="14.8">0.6</text></g>
<g transform="translate(401.40 491.64) scale(0.92 1)" fill="#383838"><text x="-20.57" y="0" font-size="14.8">0.8</text></g>
<g transform="translate(401.40 453.07) scale(0.92 1)" fill="#383838"><text x="-8.23" y="0" font-size="14.8"> </text><path d="M-4.02 0.00L-2.72 0.00L-2.72 -10.33L-3.56 -10.33L-3.81 -9.83L-4.33 -9.29L-5.05 -8.78L-5.85 -8.38L-6.62 -8.09L-6.62 -6.94L-5.85 -7.30L-5.05 -7.73L-4.47 -8.13L-4.02 -8.53Z"/></g>
<g transform="translate(401.40 414.50) scale(0.92 1)" fill="#383838"><text x="-20.57" y="0" font-size="14.8"> .2</text><path d="M-16.36 0.00L-15.06 0.00L-15.06 -10.33L-15.91 -10.33L-16.15 -9.83L-16.67 -9.29L-17.39 -8.78L-18.19 -8.38L-18.96 -8.09L-18.96 -6.94L-18.19 -7.30L-17.39 -7.73L-16.82 -8.13L-16.36 -8.53Z"/></g>
<rect x="598.30" y="414.3" width="76.9" height="29.9" fill="#fff" stroke="#262626" stroke-width="1.1"/>
<path d="M600.70 422.4h19" stroke="#ff0000" stroke-width="1.2"/>
<path d="M610.00 417.40l4.3 7.60h-8.6z" fill="#ff0000"/>
<path d="M600.70 436.4h19" stroke="#0000ff" stroke-width="1.2"/>
<circle cx="610.00" cy="436.4" r="3.6" fill="#0000ff"/>
<text x="621.70" y="426.6" font-size="11.5">forward</text>
<text x="621.70" y="440.8" font-size="11.5">backward</text>
<text transform="translate(370.60 544.9) rotate(-90)" text-anchor="middle" font-size="13.6" fill="#333">r</text>
<g transform="translate(360.85 0)"><path d="M180.7 707.5L178.5 714.8M179.9 711.3C181.2 710.6 182.0 708.7 183.2 708.5L185.0 708.5M181.5 710.3L184.2 714.8" stroke="#3a3a3a" stroke-width="1.15" fill="none" stroke-linecap="round"/></g>
<text x="409.20" y="382.60" font-size="14" font-weight="bold" fill="#000">(</text>
<text x="414.27" y="382.70" font-size="13.5" font-weight="bold" fill="#000">c</text>
<text x="422.49" y="382.60" font-size="14" font-weight="bold" fill="#000">)</text>
<path d="M430.61 378.46C431.05 377.18 431.78 377.05 432.95 377.05L436.89 376.92M434.48 377.05L433.02 381.75" stroke="#000" stroke-width="1.7" fill="none" stroke-linecap="round"/>
<text x="440.54" y="383.40" font-size="13.5" font-weight="bold" fill="#000">=</text>
<g transform="translate(452.32 382.55)" fill="#000"><text x="0.00" y="0" font-size="13.8" font-weight="bold"> .0</text><path d="M4.41 0.00L6.30 0.00L6.30 -9.64L4.77 -9.64L4.51 -9.10L3.98 -8.56L3.23 -8.12L2.29 -7.75L1.28 -7.48L1.28 -5.86L2.22 -6.17L3.17 -6.64L3.77 -7.01L4.41 -7.41Z"/></g>
</svg>
</body></html>
